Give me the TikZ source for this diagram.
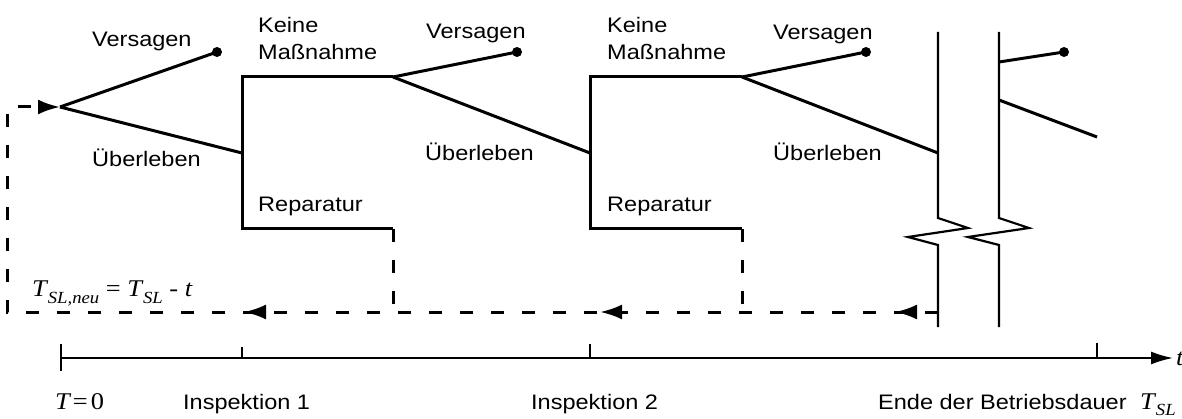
\documentclass[tikz,border=0pt]{standalone}
\usepackage{fontspec}
\setmainfont{Liberation Sans}[FakeStretch=1.12]
\newfontfamily\serif{Liberation Serif}[FakeStretch=1.1]
\usetikzlibrary{arrows.meta,decorations.markings}

\tikzset{
  lbl/.style={anchor=base west, inner sep=0pt, font=\fontsize{21}{25}\selectfont},
  mth/.style={anchor=base west, inner sep=0pt, font=\serif\fontsize{24}{28}\selectfont},
  branch/.style={line width=3pt, line join=miter},
  brk/.style={line width=2.2pt, line join=miter},
  axisline/.style={line width=1.9pt},
  tick/.style={line width=1.9pt},
  loopback/.style={line width=3pt, dash pattern=on 13pt off 18pt},
  tip/.style={-{Latex[length=22pt,width=15pt]}},
  enddot/.style={fill=black}
}

\begin{document}
\begin{tikzpicture}[x=1pt,y=-1pt]
\useasboundingbox (0,0) rectangle (1182,419);

% decision points of the event tree
\coordinate (b0) at (60,107);
\coordinate (d1) at (217,52);
\coordinate (s1) at (242,153);
\coordinate (i1t) at (242,77);
\coordinate (i1b) at (242,229);
\coordinate (b1) at (393,77);
\coordinate (r1) at (393,229);
\coordinate (d2) at (517,52);
\coordinate (s2) at (590,153);
\coordinate (i2t) at (590,77);
\coordinate (i2b) at (590,229);
\coordinate (b2) at (742,77);
\coordinate (r2) at (742,229);
\coordinate (d3) at (866,52);
\coordinate (s3) at (938,153);
\coordinate (e1) at (999,62);
\coordinate (d4) at (1064,52);
\coordinate (e2) at (999,100);
\coordinate (s4) at (1097,137);

% branches
\draw[branch] (b0) -- (d1);
\draw[branch] (b0) -- (s1);
\draw[branch] (r1) -- (i1b) -- (i1t) -- (b1);
\draw[branch] (b1) -- (d2);
\draw[branch] (b1) -- (s2);
\draw[branch] (r2) -- (i2b) -- (i2t) -- (b2);
\draw[branch] (b2) -- (d3);
\draw[branch] (b2) -- (s3);
\draw[branch] (e1) -- (d4);
\draw[branch] (e2) -- (s4);

% failure end points
\fill[enddot] (d1) circle[radius=5pt];
\fill[enddot] (d2) circle[radius=5pt];
\fill[enddot] (d3) circle[radius=5pt];
\fill[enddot] (d4) circle[radius=5pt];

% time break
\draw[brk] (938,32) -- (938,218) -- (968,228) -- (908,237) -- (938,245) -- (938,327);
\draw[brk] (999,32) -- (999,218) -- (1029,228) -- (968,237) -- (999,245) -- (999,327);

% repair: restart with reduced service life
\coordinate (lr) at (938,312);
\coordinate (ll) at (7,312);
\coordinate (lu) at (7,107);
\coordinate (f1) at (393,312);
\coordinate (f2) at (742,312);
\draw[loopback] (r1) -- (f1);
\draw[loopback] (r2) -- (f2);
\draw[loopback, tip,
  postaction={decorate, decoration={markings,
    mark=at position 43pt with {\arrow{Latex[length=22pt,width=15pt]}},
    mark=at position 338pt with {\arrow{Latex[length=22pt,width=15pt]}},
    mark=at position 694pt with {\arrow{Latex[length=22pt,width=15pt]}}}}]
  (lr) -- (ll) -- (lu) -- (b0);

% time axis
\coordinate (a0) at (61,358);
\coordinate (a1) at (1173,358);
\draw[axisline, -{Latex[length=22pt,width=13pt]}] (a0) -- (a1);
\draw[tick] (61,344) -- (61,371);
\draw[tick] (242,347) -- (242,358);
\draw[tick] (590,344) -- (590,358);
\draw[tick] (1097,343) -- (1097,358);

% labels
\node[lbl] (v1) at (92,47) {Versagen};
\node[lbl] (u1) at (92,167) {Überleben};
\node[lbl] (k1) at (258,33) {Keine};
\node[lbl] (m1) at (258,60) {Maßnahme};
\node[lbl] (rp1) at (258,212) {Reparatur};
\node[lbl] (v2) at (426,39) {Versagen};
\node[lbl] (u2) at (425,161) {Überleben};
\node[lbl] (k2) at (607,33) {Keine};
\node[lbl] (m2) at (607,60) {Maßnahme};
\node[lbl] (rp2) at (607,212) {Reparatur};
\node[lbl] (v3) at (773,40) {Versagen};
\node[lbl] (u3) at (773,161) {Überleben};

\node[mth] (tsl) at (32,297) {\itshape T\kern1pt\raisebox{-6pt}{\fontsize{17}{17}\selectfont SL,neu}\upshape\ =\ \itshape T\kern1pt\raisebox{-6pt}{\fontsize{17}{17}\selectfont SL}\upshape\ -\ \itshape t};

\node[mth] (t0) at (55,409) {\itshape T\kern3pt\upshape=\kern3pt0};
\node[lbl] (in1) at (183,409) {Inspektion 1};
\node[lbl] (in2) at (531,409) {Inspektion 2};
\node[lbl] (end) at (878,409) {Ende der Betriebsdauer};
\node[mth] (tend) at (1140,409) {\itshape T\kern1pt\raisebox{-6pt}{\fontsize{17}{17}\selectfont SL}};
\node[mth] (tt) at (1176,365) {\itshape t};
\end{tikzpicture}
\end{document}
